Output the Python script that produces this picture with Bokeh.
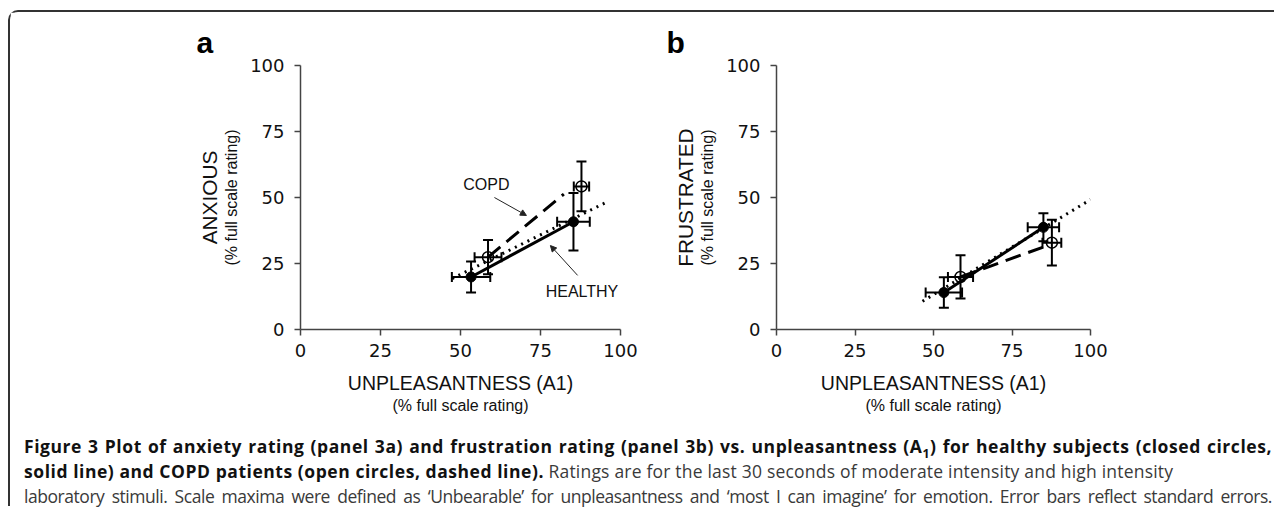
from bokeh.plotting import figure
from bokeh.models import (Range1d, FixedTicker, ColumnDataSource, Whisker, TeeHead,
                          Label, Arrow, NormalHead, Div, Title)
from bokeh.layouts import row, column
from bokeh.embed import file_html
from bokeh.resources import INLINE

# ---------------- data ----------------
ticks = [0, 25, 50, 75, 100]

# panel a: ANXIOUS vs UNPLEASANTNESS
a_healthy_x = [53.3, 85.3]
a_healthy_y = [19.9, 40.8]
a_healthy_xerr = [6.0, 5.1]
a_healthy_yerr = [5.9, 10.9]
a_copd_x = [58.6, 87.8]
a_copd_y = [27.4, 54.2]
a_copd_xerr = [4.2, 2.4]
a_copd_yerr = [6.5, 9.4]
a_copd_fit_x = [58.6, 82.3]
a_copd_fit_y = [27.4, 51.3]
a_pooled_fit_x = [47.4, 95.1]
a_pooled_fit_y = [19.3, 47.9]

# panel b: FRUSTRATED vs UNPLEASANTNESS
b_healthy_x = [53.3, 85.0]
b_healthy_y = [14.0, 38.7]
b_healthy_xerr = [5.8, 5.0]
b_healthy_yerr = [5.8, 5.3]
b_copd_x = [58.6, 87.7]
b_copd_y = [19.9, 32.9]
b_copd_xerr = [4.0, 3.0]
b_copd_yerr = [8.2, 8.7]
b_copd_fit_x = [58.6, 86.5]
b_copd_fit_y = [19.9, 31.9]
b_pooled_fit_x = [46.5, 100.0]
b_pooled_fit_y = [10.7, 49.2]

LAB_FONT = "Liberation Sans"
TICK_FONT = "DejaVu Sans"
TXT = "#111111"


def err_sources(x, y, xe, ye):
    v = ColumnDataSource(dict(base=x, lower=[a - b for a, b in zip(y, ye)],
                              upper=[a + b for a, b in zip(y, ye)]))
    h = ColumnDataSource(dict(base=y, lower=[a - b for a, b in zip(x, xe)],
                              upper=[a + b for a, b in zip(x, xe)]))
    return v, h


def add_whiskers(p, x, y, xe, ye):
    v, h = err_sources(x, y, xe, ye)
    for src, dim in ((v, "height"), (h, "width")):
        w = Whisker(source=src, base="base", lower="lower", upper="upper",
                    dimension=dim, line_color="black", line_width=2,
                    upper_head=TeeHead(size=10, line_width=2, line_color="black"),
                    lower_head=TeeHead(size=10, line_width=2, line_color="black"))
        p.add_layout(w)


def make_panel(width, left, right, letter, letter_offset, ylab,
               hx, hy, hxe, hye, cx, cy, cxe, cye, cfx, cfy, pfx, pfy):
    p = figure(width=width, height=422, x_range=Range1d(0, 100), y_range=Range1d(0, 100),
               output_backend="svg", toolbar_location=None,
               min_border_left=left, min_border_right=right,
               min_border_top=53, min_border_bottom=105)
    p.outline_line_color = None
    p.grid.visible = False
    p.background_fill_color = "white"
    p.border_fill_color = "white"
    for ax in (p.xaxis[0], p.yaxis[0]):
        ax.ticker = FixedTicker(ticks=ticks)
        ax.axis_line_color = "#444444"
        ax.axis_line_width = 1.5
        ax.major_tick_line_color = "#444444"
        ax.major_tick_line_width = 1.5
        ax.major_tick_in = 0
        ax.major_tick_out = 6
        ax.minor_tick_line_color = None
        ax.major_label_text_font = TICK_FONT
        ax.major_label_text_font_size = "18px"
        ax.major_label_text_color = TXT
        ax.axis_label_text_font = LAB_FONT
        ax.axis_label_text_font_style = "normal"
        ax.axis_label_text_color = TXT
    p.yaxis[0].major_label_standoff = 10
    p.xaxis[0].major_label_standoff = 8

    # axis titles
    p.xaxis[0].axis_label = "UNPLEASANTNESS (A1)"
    p.xaxis[0].axis_label_text_font_size = "19.5px"
    p.xaxis[0].axis_label_standoff = 12
    p.add_layout(Title(text="(% full scale rating)", align="center", text_font=LAB_FONT,
                       text_font_size="16px", text_font_style="normal",
                       text_color=TXT, standoff=-4), "below")
    p.yaxis[0].axis_label = "(% full scale rating)"
    p.yaxis[0].axis_label_text_font_size = "16px"
    p.yaxis[0].axis_label_standoff = 7
    p.add_layout(Title(text=ylab, align="center", text_font=LAB_FONT,
                       text_font_size="20.8px", text_font_style="normal",
                       text_color=TXT, standoff=0), "left")

    # panel letter
    p.title.text = letter
    p.title.align = "left"
    p.title.offset = letter_offset
    p.title.text_font = LAB_FONT
    p.title.text_font_size = "30px"
    p.title.text_font_style = "bold"
    p.title.text_color = "black"
    p.title.standoff = 14

    # lines
    p.line(pfx, pfy, line_color="black", line_width=3, line_dash="2 5")
    p.line(cfx, cfy, line_color="black", line_width=3, line_dash="16 8")
    p.line(hx, hy, line_color="black", line_width=3)

    add_whiskers(p, hx, hy, hxe, hye)
    add_whiskers(p, cx, cy, cxe, cye)

    p.scatter(hx, hy, size=10, fill_color="black", line_color="black")
    p.scatter(cx, cy, size=11, fill_color=None, line_color="black", line_width=1.5)
    return p


pa = make_panel(632, 290, 22, "a", -104, "ANXIOUS",
                a_healthy_x, a_healthy_y, a_healthy_xerr, a_healthy_yerr,
                a_copd_x, a_copd_y, a_copd_xerr, a_copd_yerr,
                a_copd_fit_x, a_copd_fit_y, a_pooled_fit_x, a_pooled_fit_y)
pa.add_layout(Label(x=58.1, y=54.9, text="COPD", text_font=LAB_FONT, text_font_size="16px",
                    text_align="center", text_baseline="middle", text_color=TXT))
pa.add_layout(Label(x=99.3, y=14.4, text="HEALTHY", text_font=LAB_FONT, text_font_size="16px",
                    text_align="right", text_baseline="middle", text_color=TXT))
pa.add_layout(Arrow(x_start=60.6, y_start=50.0, x_end=70.6, y_end=43.2, line_width=1,
                    line_color="#222222",
                    end=NormalHead(size=6, fill_color="#222222", line_color="#222222")))
pa.add_layout(Arrow(x_start=86.6, y_start=20.5, x_end=78.1, y_end=31.8, line_width=1,
                    line_color="#222222",
                    end=NormalHead(size=6, fill_color="#222222", line_color="#222222")))

pb = make_panel(632, 134, 184, "b", -110, "FRUSTRATED",
                b_healthy_x, b_healthy_y, b_healthy_xerr, b_healthy_yerr,
                b_copd_x, b_copd_y, b_copd_xerr, b_copd_yerr,
                b_copd_fit_x, b_copd_fit_y, b_pooled_fit_x, b_pooled_fit_y)

JUST = "width:1248px;text-align:justify;text-align-last:justify;"
caption_html = (
    "<div style='" + JUST + "font-weight:700;letter-spacing:0.55px;color:#111'>"
    "Figure 3 Plot of anxiety rating (panel 3a) and frustration rating (panel 3b) vs. "
    "unpleasantness (A<sub style='line-height:0;font-size:70%'>1</sub>) for healthy subjects "
    "(closed circles,</div>"
    "<div><span style='font-weight:700;letter-spacing:0.55px;color:#111'>"
    "solid line) and COPD patients (open circles, dashed line).</span> "
    "<span style='font-weight:400;letter-spacing:0.2px;color:#3a3a3a'>"
    "Ratings are for the last 30 seconds of moderate intensity and high intensity</span></div>"
    "<div style='" + JUST + "font-weight:400;letter-spacing:-0.45px;color:#3a3a3a'>"
    "laboratory stimuli. Scale maxima were defined as \u2018Unbearable\u2019 for "
    "unpleasantness and \u2018most I can imagine\u2019 for emotion. Error bars reflect standard "
    "errors.</div>"
)
cap = Div(text=caption_html, width=1264, height=72, margin=(0, 0, 0, 0),
          styles={"font-family": "'Open Sans', sans-serif", "font-size": "17.5px",
                  "line-height": "25px", "white-space": "nowrap",
                  "padding-left": "14px"})

root = column(row(pa, pb), cap,
              styles={"border-top": "2px solid #333", "border-left": "2px solid #333",
                      "border-top-left-radius": "10px", "background": "white",
                      "margin-left": "8px", "margin-top": "10px"})

open("out.html", "w").write(file_html(root, INLINE))
